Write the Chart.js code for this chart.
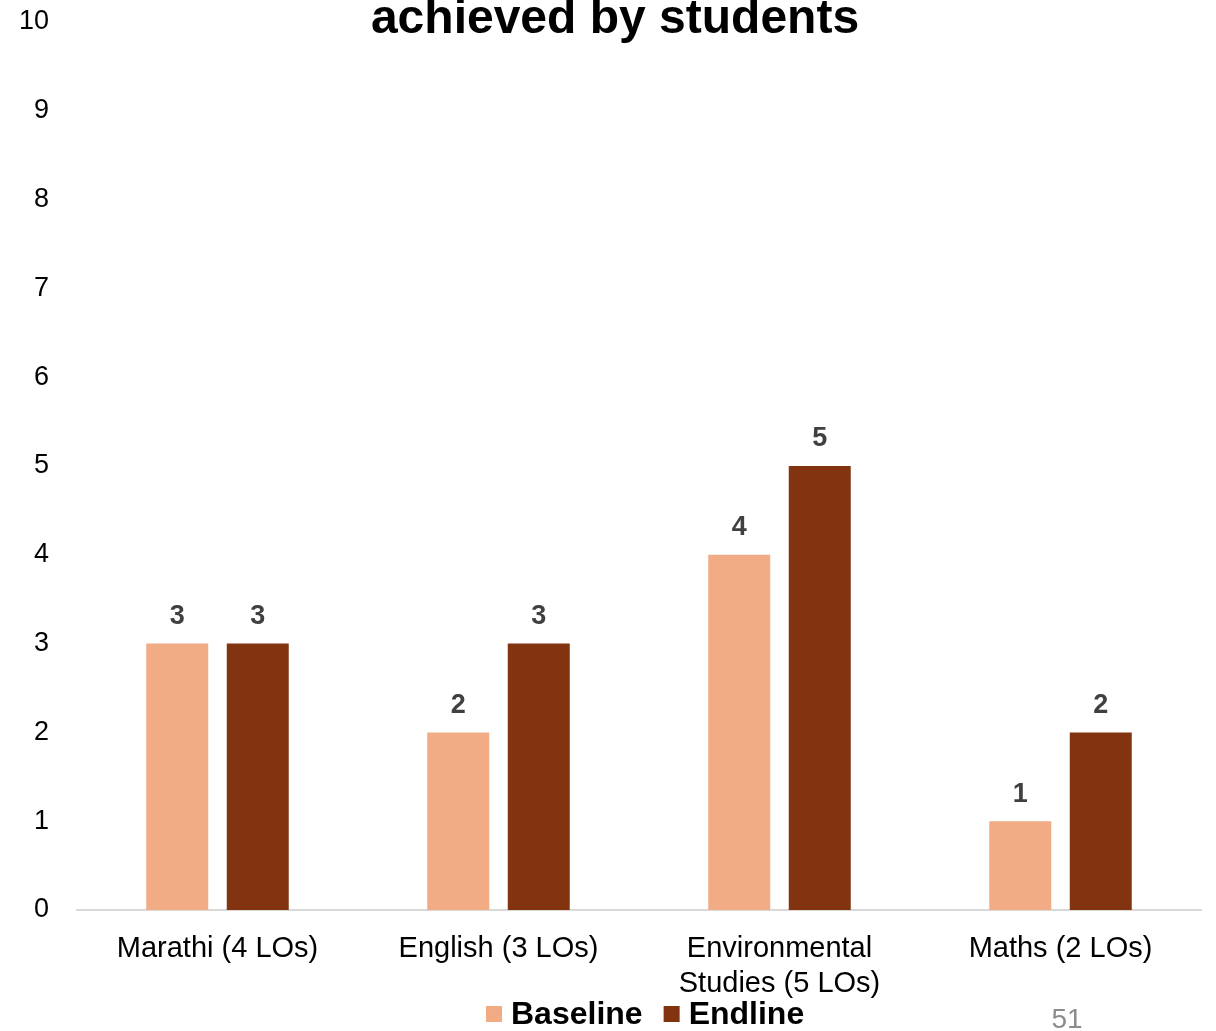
<!DOCTYPE html>
<html>
<head>
<meta charset="utf-8">
<script src="https://cdn.jsdelivr.net/npm/chart.js@4"></script>
<style>
  body { margin: 0; background: #fff; }
  #wrap { width: 1216px; height: 1031px; }
</style>
</head>
<body>
<div id="wrap"><canvas id="myChart" width="1216" height="1031"></canvas></div>
<script>
  const subjects = [
    'Marathi (4 LOs)',
    'English (3 LOs)',
    ['Environmental', 'Studies (5 LOs)'],
    'Maths (2 LOs)',
  ];
  const baseline = [3, 2, 4, 1];
  const endline = [3, 3, 5, 2];
  const yTicks = [0, 1, 2, 3, 4, 5, 6, 7, 8, 9, 10];
  const titleText = 'achieved by students';
  const pageNumber = '51';

  const FONT = '"Liberation Sans", Arial, Helvetica, sans-serif';

  // value labels above each bar
  const barLabels = {
    id: 'barLabels',
    afterDatasetsDraw(chart) {
      const ctx = chart.ctx;
      ctx.save();
      ctx.font = 'bold 27px ' + FONT;
      ctx.fillStyle = '#404040';
      ctx.textAlign = 'center';
      ctx.textBaseline = 'middle';
      chart.data.datasets.forEach(function(ds, i) {
        chart.getDatasetMeta(i).data.forEach(function(bar, j) {
          ctx.fillText(ds.data[j], bar.x, bar.y - 27);
        });
      });
      ctx.restore();
    }
  };

  // clipped slide title, legend and page number
  const extras = {
    id: 'extras',
    afterDraw(chart) {
      const ctx = chart.ctx;
      ctx.save();
      ctx.font = 'bold 48px ' + FONT;
      ctx.fillStyle = '#000';
      ctx.textAlign = 'center';
      ctx.textBaseline = 'alphabetic';
      ctx.fillText(titleText, 615, 33);

      // legend
      let x = 486;
      const y = 1014;
      ctx.font = 'bold 32px ' + FONT;
      ctx.textAlign = 'left';
      ctx.textBaseline = 'middle';
      chart.data.datasets.forEach(function(ds) {
        ctx.fillStyle = ds.backgroundColor;
        ctx.fillRect(x, y - 8, 16, 16);
        ctx.fillStyle = '#000';
        ctx.fillText(ds.label, x + 25, y + 1);
        x += 25 + ctx.measureText(ds.label).width + 21;
      });

      ctx.font = '28px ' + FONT;
      ctx.fillStyle = '#8c8c8c';
      ctx.textAlign = 'center';
      ctx.textBaseline = 'alphabetic';
      ctx.fillText(pageNumber, 1067, 1028);
      ctx.restore();
    }
  };

  const data = {
    labels: subjects,
    datasets: [{
      label: 'Baseline',
      backgroundColor: '#F1AB85',
      data: baseline,
    }, {
      label: 'Endline',
      backgroundColor: '#823411',
      data: endline,
    }]
  };

  const config = {
    type: 'bar',
    data: data,
    options: {
      responsive: false,
      animation: false,
      layout: { padding: { top: 22, right: 15, left: 0, bottom: 0 } },
      datasets: {
        bar: { categoryPercentage: 0.573, barPercentage: 0.77 }
      },
      plugins: {
        title: { display: false },
        tooltip: { enabled: false },
        legend: { display: false }
      },
      scales: {
        x: {
          grid: { display: false, drawTicks: false },
          border: { color: '#d9d9d9', width: 2 },
          ticks: {
            font: { family: FONT, size: 29, lineHeight: 1.2 },
            color: '#000',
            padding: 22,
            maxRotation: 0,
            autoSkip: false,
          },
          afterFit(scale) { scale.height = 121; }
        },
        y: {
          min: 0,
          max: 10,
          // grid hidden, tick length only used as label gap
          grid: { display: false, drawTicks: true, tickLength: 28 },
          border: { display: false },
          afterBuildTicks(scale) { scale.ticks = yTicks.map(v => ({ value: v })); },
          ticks: {
            font: { family: FONT, size: 27 },
            color: '#000',
            padding: 0,
          },
          afterFit(scale) { scale.width = 77; }
        }
      }
    },
    plugins: [barLabels, extras]
  };

  const myChart = new Chart(document.getElementById('myChart'), config);
</script>
</body>
</html>
